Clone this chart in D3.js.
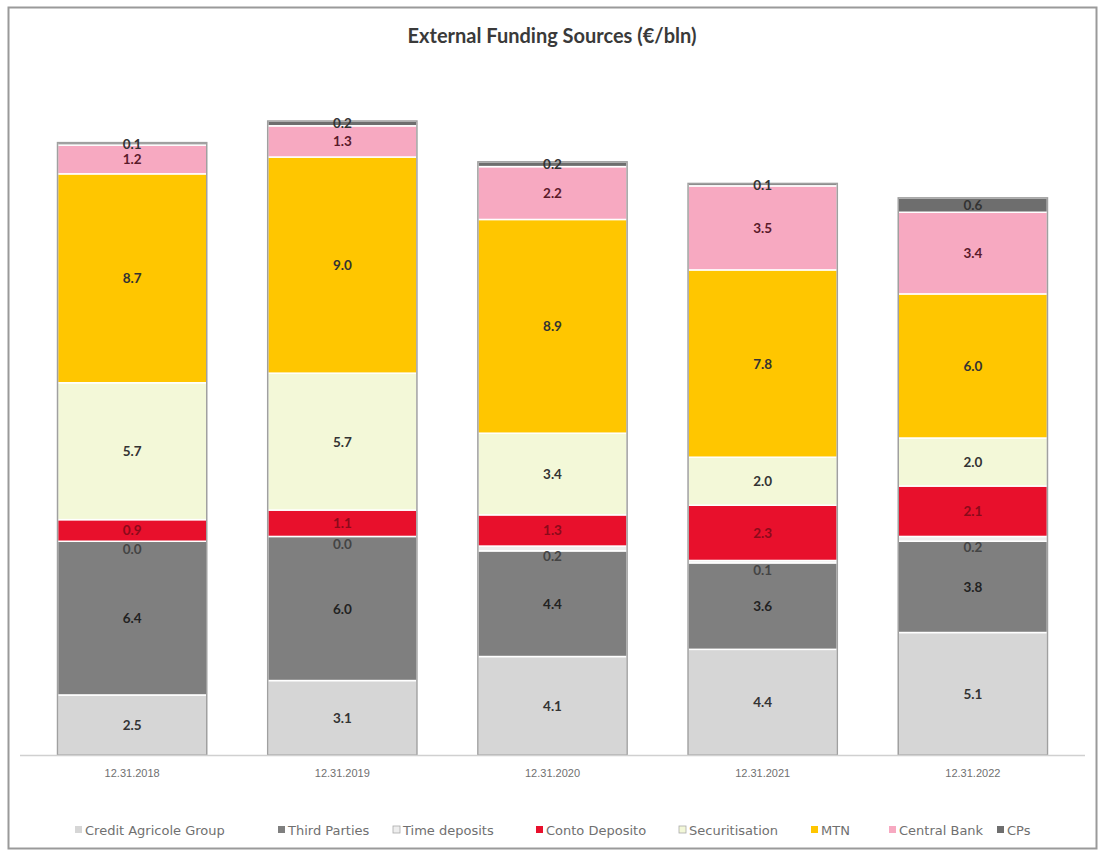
<!DOCTYPE html>
<html>
<head>
<meta charset="utf-8">
<script src="https://cdn.jsdelivr.net/npm/d3@7"></script>
<style>
  html, body { margin: 0; padding: 0; background: #fff; }
  svg { display: block; }
</style>
</head>
<body>
<svg id="chart" width="1105" height="853"></svg>
<script>
const categories = ["12.31.2018", "12.31.2019", "12.31.2020", "12.31.2021", "12.31.2022"];
const seriesNames = ["Credit Agricole Group", "Third Parties", "Time deposits", "Conto Deposito", "Securitisation", "MTN", "Central Bank", "CPs"];
const creditAgricole = [2.5, 3.1, 4.1, 4.4, 5.1];
const thirdParties   = [6.4, 6.0, 4.4, 3.6, 3.8];
const timeDeposits   = [0.0, 0.0, 0.2, 0.1, 0.2];
const contoDeposito  = [0.9, 1.1, 1.3, 2.3, 2.1];
const securitisation = [5.7, 5.7, 3.4, 2.0, 2.0];
const mtn            = [8.7, 9.0, 8.9, 7.8, 6.0];
const centralBank    = [1.2, 1.3, 2.2, 3.5, 3.4];
const cps            = [0.1, 0.2, 0.2, 0.1, 0.6];
const seriesValues = [creditAgricole, thirdParties, timeDeposits, contoDeposito, securitisation, mtn, centralBank, cps];

const colors = ["#d6d6d6", "#7f7f7f", "#eeeeee", "#e8102c", "#f3f8d8", "#ffc600", "#f7a9c1", "#6e6e6e"];
const labelColors = ["#333", "#222", "#444", "#8b0a1a", "#333", "#333", "#5a1a2a", "#333"];

const rows = categories.map((c, i) => {
  const r = { cat: c };
  seriesNames.forEach((s, j) => r[s] = seriesValues[j][i]);
  return r;
});

const svg = d3.select("#chart");

svg.append("rect").attr("x", 8.5).attr("y", 7.5).attr("width", 1088).attr("height", 841)
  .attr("fill", "#fff").attr("stroke", "#9a9a9a").attr("stroke-width", 2);

svg.append("text").attr("x", 552).attr("y", 43).attr("text-anchor", "middle")
  .attr("font-family", "Lato, 'Open Sans', sans-serif").attr("font-weight", "bold")
  .attr("font-size", 20).attr("fill", "#3a3a3a").text("External Funding Sources (€/bln)");

const baseY = 755;
const x = d3.scaleBand().domain(categories).range([26, 1079]).paddingInner(0.29).paddingOuter(0.15);
const y = d3.scaleLinear().domain([0, 26.4]).range([baseY, 121]);

const stacked = d3.stack().keys(seriesNames)(rows);

const g = svg.append("g");
stacked.forEach((layer, j) => {
  g.selectAll(null).data(layer).enter().append("rect")
    .attr("x", d => x(d.data.cat))
    .attr("width", x.bandwidth())
    .attr("y", d => y(d[1]))
    .attr("height", d => Math.max(0, y(d[0]) - y(d[1])))
    .attr("fill", colors[j])
    .attr("stroke", "#fff").attr("stroke-width", 1.5);
});

g.selectAll(null).data(rows).enter().append("rect")
  .attr("x", d => x(d.cat))
  .attr("width", x.bandwidth())
  .attr("y", d => y(d3.sum(seriesNames, s => d[s])))
  .attr("height", d => baseY - y(d3.sum(seriesNames, s => d[s])))
  .attr("fill", "none").attr("stroke", "#a0a0a0").attr("stroke-width", 1.5);

stacked.forEach((layer, j) => {
  g.selectAll(null).data(layer).enter().append("text")
    .attr("x", d => x(d.data.cat) + x.bandwidth() / 2)
    .attr("y", d => {
      let cy = (y(d[0]) + y(d[1])) / 2;
      if (j === 2) cy += 8;
      return cy + 5;
    })
    .attr("text-anchor", "middle")
    .attr("font-family", "Lato, 'Open Sans', sans-serif").attr("font-weight", "bold")
    .attr("font-size", 13.5).attr("fill", labelColors[j])
    .text(d => d3.format(".1f")(d.data[seriesNames[j]]));
});

const axis = d3.axisBottom(x).tickSize(0).tickPadding(14);
const ax = svg.append("g").attr("transform", `translate(0,${baseY})`).call(axis);
ax.select(".domain").remove();
ax.selectAll("text").attr("font-family", "'Liberation Sans Narrow', 'Liberation Sans', sans-serif")
  .attr("font-size", 11).attr("fill", "#707070");
svg.append("line").attr("x1", 20).attr("x2", 1085).attr("y1", baseY + 0.5).attr("y2", baseY + 0.5)
  .attr("stroke", "#d0d0d0").attr("stroke-width", 1.5);

const legend = svg.append("g").attr("transform", "translate(0,830)");
const legendX = [75, 278, 393, 536, 679, 811, 889, 997];
seriesNames.forEach((s, j) => {
  const lg = legend.append("g").attr("transform", `translate(${legendX[j]},0)`);
  lg.append("rect").attr("x", 0).attr("y", -4).attr("width", 7).attr("height", 7).attr("fill", colors[j])
    .attr("stroke", j === 2 || j === 4 ? "#aaa" : "none").attr("stroke-width", 0.8);
  lg.append("text").attr("x", 10).attr("y", 4.5).attr("font-family", "'DejaVu Sans', sans-serif")
    .attr("font-size", 13).attr("fill", "#707070").text(s);
});
</script>
</body>
</html>
